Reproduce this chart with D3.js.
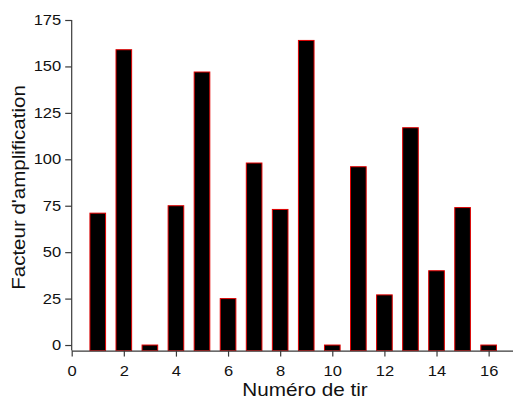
<!DOCTYPE html>
<html>
<head>
<meta charset="utf-8">
<script src="https://cdn.jsdelivr.net/npm/d3@7"></script>
<style>
  html, body { margin: 0; padding: 0; background: #fff; }
  svg { display: block; }
  text { font-family: "Liberation Sans", Arial, sans-serif; fill: #111; }
</style>
</head>
<body>
<svg id="chart" width="513" height="398"></svg>
<script>
const shots = [1, 2, 3, 4, 5, 6, 7, 8, 9, 10, 11, 12, 13, 14, 15, 16];
const amplification = [71, 159, 0, 75, 147, 25, 98, 73, 164, 0, 96, 27, 117, 40, 74, 0];
const xMajorTicks = [0, 2, 4, 6, 8, 10, 12, 14, 16];
const xMinorTicks = [1, 3, 5, 7, 9, 11, 13, 15, 17];
const yMajorTicks = [0, 25, 50, 75, 100, 125, 150, 175];
const yMinorTicks = [12.5, 37.5, 62.5, 87.5, 112.5, 137.5, 162.5];
const xTitle = "Numéro de tir";
const yTitle = "Facteur d'amplification";

const svg = d3.select("#chart");
const x = d3.scaleLinear().domain([0, 17]).range([71.7, 514.7]);
const y = d3.scaleLinear().domain([-3, 175]).range([350.6, 20]);
const barW = x(0.6) - x(0);
const axisColor = "#3a3a3a";

// bars
svg.append("g").selectAll("rect")
  .data(shots)
  .join("rect")
  .attr("x", (d) => x(d) - barW / 2)
  .attr("width", barW)
  .attr("y", (d, i) => y(amplification[i]))
  .attr("height", (d, i) => y(-3) - y(amplification[i]))
  .attr("fill", "#000")
  .attr("stroke", "#e00000")
  .attr("stroke-width", 1);

// x axis
const xAxis = svg.append("g").attr("transform", `translate(0,${y(-3)})`);
xAxis.call(d3.axisBottom(x).tickValues(xMinorTicks).tickSize(3.5).tickSizeOuter(0).tickFormat(""));
xAxis.call(d3.axisBottom(x).tickValues(xMajorTicks).tickSize(6).tickSizeOuter(0).tickFormat(d3.format("d")));
xAxis.selectAll(".domain").attr("stroke", axisColor).attr("stroke-width", 1.3);
xAxis.selectAll(".tick line").attr("stroke", axisColor).attr("stroke-width", 1.2);
xAxis.selectAll(".tick text")
  .attr("y", 0).attr("dy", null)
  .attr("transform", "translate(0,25) scale(1.18,1)")
  .style("font-size", "14px").attr("fill", "#111");

// y axis
const yAxis = svg.append("g").attr("transform", `translate(${x(0)},0)`);
yAxis.call(d3.axisLeft(y).tickValues(yMinorTicks).tickSize(4).tickSizeOuter(0).tickFormat(""));
yAxis.call(d3.axisLeft(y).tickValues(yMajorTicks).tickSize(6.5).tickSizeOuter(0).tickFormat(d3.format("d")));
yAxis.select(".domain").attr("d", `M0,${y(175)}V${y(-3)}`);
yAxis.selectAll(".domain").attr("stroke", axisColor).attr("stroke-width", 1.2);
yAxis.selectAll(".tick line").attr("stroke", axisColor).attr("stroke-width", 1.2);
yAxis.selectAll(".tick text")
  .attr("x", 0)
  .attr("transform", "translate(-10.5,0) scale(1.18,1)")
  .style("font-size", "14px").attr("fill", "#111");

// titles
svg.append("text")
  .attr("transform", "translate(305,395.5) scale(1.15,1)")
  .attr("text-anchor", "middle")
  .style("font-size", "18px")
  .text(xTitle);

svg.append("text")
  .attr("transform", "translate(25.3,187.5) rotate(-90) scale(1.14,1)")
  .attr("text-anchor", "middle")
  .style("font-size", "18px")
  .text(yTitle);
</script>
</body>
</html>
